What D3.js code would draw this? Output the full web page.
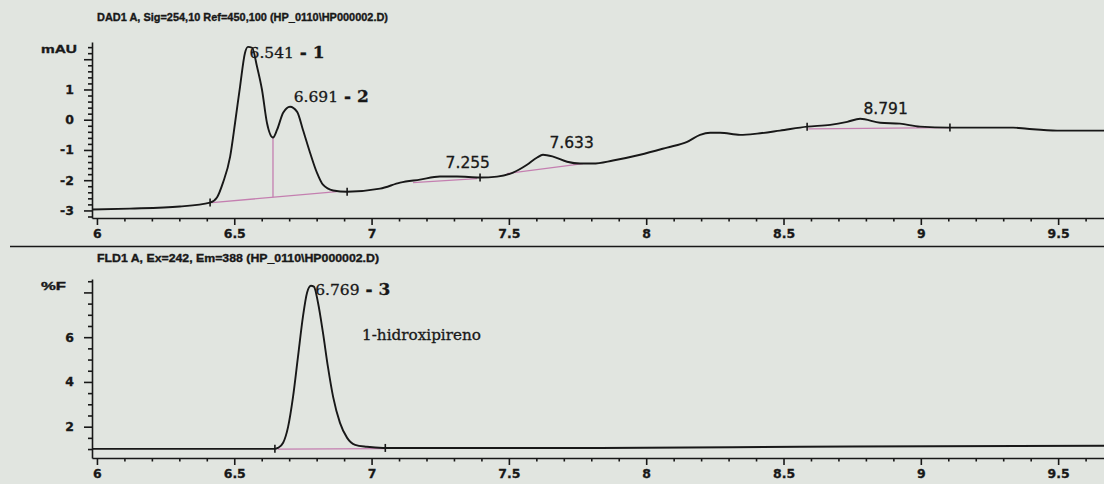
<!DOCTYPE html>
<html>
<head>
<meta charset="utf-8">
<script src="https://cdn.jsdelivr.net/npm/d3@7"></script>
<style>
html, body { margin: 0; padding: 0; background: #e1e5e0; }
svg { display: block; }
</style>
</head>
<body>
<svg id="chart" width="1104" height="484"></svg>
<script>
// DAD1 A trace (time in min, signal in mAU)
const dadTime = [5.982, 6.12, 6.302, 6.412, 6.437, 6.459, 6.485, 6.503, 6.521, 6.539, 6.550, 6.565, 6.583, 6.601, 6.619, 6.641, 6.656, 6.678, 6.703, 6.729, 6.750, 6.776, 6.801, 6.823, 6.860, 6.911, 7.031, 7.104, 7.176, 7.249, 7.311, 7.395, 7.457, 7.515, 7.566, 7.603, 7.624, 7.661, 7.712, 7.759, 7.806, 7.879, 7.978, 8.076, 8.149, 8.196, 8.233, 8.269, 8.342, 8.404, 8.487, 8.586, 8.670, 8.732, 8.779, 8.852, 8.924, 8.997, 9.106, 9.190, 9.336, 9.387, 9.496, 9.667];
const dadSignal = [-2.97, -2.94, -2.87, -2.74, -2.57, -2.08, -1.22, -0.10, 1.09, 2.21, 2.41, 2.38, 1.75, 0.99, -0.10, -0.59, -0.33, 0.23, 0.43, 0.26, -0.33, -1.09, -1.75, -2.15, -2.34, -2.38, -2.28, -2.08, -1.98, -1.88, -1.88, -1.91, -1.88, -1.75, -1.49, -1.25, -1.16, -1.22, -1.39, -1.45, -1.45, -1.35, -1.16, -0.92, -0.73, -0.50, -0.43, -0.43, -0.50, -0.46, -0.36, -0.23, -0.17, -0.07, 0.03, -0.10, -0.13, -0.23, -0.26, -0.26, -0.26, -0.30, -0.36, -0.36];

// FLD1 A trace (time in min, signal in %F)
const fldTime = [5.982, 6.375, 6.648, 6.659, 6.678, 6.696, 6.714, 6.732, 6.750, 6.765, 6.779, 6.790, 6.805, 6.823, 6.841, 6.860, 6.885, 6.911, 6.940, 6.983, 7.042, 7.832, 8.560, 9.667];
const fldSignal = [1.01, 1.01, 1.01, 1.05, 1.28, 1.99, 3.33, 5.12, 6.91, 7.99, 8.30, 8.26, 7.54, 6.20, 4.68, 3.33, 2.17, 1.50, 1.19, 1.10, 1.05, 1.05, 1.10, 1.15];

// integration baselines [start time, start value, end time, end value]
const dadBaselines = [[6.419, -2.74, 6.874, -2.38], [7.151, -2.08, 7.384, -1.95], [7.493, -1.78, 7.770, -1.45], [8.590, -0.30, 9.106, -0.26]];
const fldBaselines = [[6.659, 1.00, 7.050, 1.02]];
// drop line between peaks 1 and 2 [time, top value, bottom value]
const dadDrops = [[6.641, -0.59, -2.56]];
// peak start / end marks [time, value]
const dadMarks = [[6.412, -2.74], [6.911, -2.38], [7.395, -1.91], [8.586, -0.23], [9.106, -0.26]];
const fldMarks = [[6.648, 1.01], [7.050, 1.05]];

// peak labels
const dadPeakTimes = [6.541, 6.691, 7.255, 7.633, 8.791];
const dadPeakApex = [2.41, 0.43, -1.88, -1.16, 0.03];
const dadPeakSuffix = [" - 1", " - 2", "", "", ""];
const fldPeakTimes = [6.769];
const fldPeakApex = [8.30];
const fldPeakSuffix = [" - 3"];

// axis ticks
const timeTicks = [6, 6.5, 7, 7.5, 8, 8.5, 9, 9.5];
const dadTicks = [-3, -2, -1, 0, 1, 2];
const dadTickLabels = ["-3", "-2", "-1", "0", "1", ""];
const fldTicks = [2, 4, 6, 8];
const fldTickLabels = ["2", "4", "6", ""];

const dadTitle = "DAD1 A, Sig=254,10 Ref=450,100 (HP_0110\\HP000002.D)";
const fldTitle = "FLD1 A, Ex=242, Em=388 (HP_0110\\HP000002.D)";
const compoundName = "1-hidroxipireno";

// layout
const ink = "#181818";
const pink = "#c47fb0";
const sans = "'Liberation Sans', Arial, sans-serif";
const wideSans = "'DejaVu Sans', sans-serif";
const serif = "'DejaVu Serif', serif";

const svg = d3.select("#chart");

const x = d3.scaleLinear().domain([5.982, 9.667]).range([92, 1104]);

// Deze functie maakt de printerletters wat zwaarder (dunne omlijning)
const heavy = (sel, w) => sel.style("stroke", ink).style("stroke-width", w).style("paint-order", "stroke");

// Deze functie zet het lettertype van de aslabels
const tickFont = (sel) => sel
    .attr("font-family", "DejaVu Sans").attr("font-weight", "bold").attr("font-size", 12.5)
    .style("font-family", "'DejaVu Sans'").style("font-weight", "bold").style("font-size", "12.5px")
    .style("fill", ink)
    .call(heavy, 0.3);

const panels = [
    {
        title: dadTitle, titleY: 21, titleLen: 291, unit: "mAU", unitY: 53, unitLen: 36,
        y: d3.scaleLinear().domain([-3.25, 2.57]).range([218, 42]),
        ticks: dadTicks, tickLabels: dadTickLabels, minorStep: 0.2,
        time: dadTime, signal: dadSignal, baselines: dadBaselines, drops: dadDrops, marks: dadMarks,
        peakTimes: dadPeakTimes, peakApex: dadPeakApex, peakSuffix: dadPeakSuffix,
        labelDx: [4, 7, 4, 4, 0], labelDy: [11, -5, -9, -7, -5],
        labelFont: [serif, serif, wideSans, wideSans, wideSans]
    },
    {
        title: fldTitle, titleY: 262, titleLen: 282, unit: "%F", unitY: 290, unitLen: 25,
        y: d3.scaleLinear().domain([0.6, 8.6]).range([458, 279]),
        ticks: fldTicks, tickLabels: fldTickLabels, minorStep: 0.5,
        time: fldTime, signal: fldSignal, baselines: fldBaselines, drops: [], marks: fldMarks,
        peakTimes: fldPeakTimes, peakApex: fldPeakApex, peakSuffix: fldPeakSuffix,
        labelDx: [7], labelDy: [9],
        labelFont: [serif]
    }
];

// Deze functie tekent een paneel (titel, assen, signaal, basislijnen en labels)
const drawPanel = (p) => {
    const g = svg.append("g");
    const y = p.y;
    const yBottom = y.range()[0];

    g.append("text")
        .attr("x", 97).attr("y", p.titleY)
        .attr("textLength", p.titleLen).attr("lengthAdjust", "spacingAndGlyphs")
        .style("font", `bold 11px ${sans}`).style("fill", ink)
        .call(heavy, 0.35)
        .text(p.title);

    g.append("text")
        .attr("x", 41).attr("y", p.unitY)
        .attr("textLength", p.unitLen).attr("lengthAdjust", "spacingAndGlyphs")
        .style("font", `bold 11px ${sans}`).style("fill", ink)
        .call(heavy, 0.35)
        .text(p.unit);

    // x axis: minor ticks every 0.1, major every 0.5
    const minorTimes = d3.range(60, 97).map(d => d / 10).filter(d => !timeTicks.includes(d));
    g.append("g")
        .attr("transform", `translate(0,${yBottom})`)
        .call(d3.axisBottom(x).tickValues(minorTimes).tickSize(3.5).tickSizeOuter(0).tickFormat(""))
        .call(a => a.select(".domain").remove());
    const xa = g.append("g")
        .attr("transform", `translate(0,${yBottom})`)
        .call(d3.axisBottom(x).tickValues(timeTicks).tickSize(7).tickSizeOuter(0).tickPadding(4)
            .tickFormat(d => d3.format("")(d)));
    xa.attr("font-size", 12.5).attr("font-family", "DejaVu Sans");
    xa.selectAll("text").call(tickFont);

    // y axis
    const [y0, y1] = y.domain();
    const minors = d3.range(Math.ceil(y0 / p.minorStep), Math.floor(y1 / p.minorStep) + 1)
        .map(d => +(d * p.minorStep).toFixed(2))
        .filter(d => !p.ticks.includes(d));
    g.append("g")
        .attr("transform", "translate(92,0)")
        .call(d3.axisLeft(y).tickValues(minors).tickSize(4).tickSizeOuter(0).tickFormat(""))
        .call(a => a.select(".domain").remove());
    const ya = g.append("g")
        .attr("transform", "translate(92,0)")
        .call(d3.axisLeft(y).tickValues(p.ticks).tickSize(8).tickSizeOuter(0).tickPadding(10)
            .tickFormat((d, i) => p.tickLabels[i]));
    ya.attr("font-size", 12.5).attr("font-family", "DejaVu Sans");
    ya.selectAll("text").call(tickFont);

    g.selectAll(".domain, .tick line").attr("stroke", ink).attr("stroke-width", 1.6);

    // baselines and drop lines
    g.selectAll(".base").data(p.baselines).join("line")
        .attr("x1", d => x(d[0])).attr("y1", d => y(d[1]))
        .attr("x2", d => x(d[2])).attr("y2", d => y(d[3]))
        .attr("stroke", pink).attr("stroke-width", 1.3);
    g.selectAll(".drop").data(p.drops).join("line")
        .attr("x1", d => x(d[0])).attr("y1", d => y(d[1]))
        .attr("x2", d => x(d[0])).attr("y2", d => y(d[2]))
        .attr("stroke", pink).attr("stroke-width", 1.3);

    // signal
    const line = d3.line().x(d => x(d[0])).y(d => y(d[1])).curve(d3.curveMonotoneX);
    g.append("path")
        .datum(p.time.map((t, i) => [t, p.signal[i]]))
        .attr("d", line)
        .attr("fill", "none").attr("stroke", ink).attr("stroke-width", 1.9)
        .attr("stroke-linejoin", "round");

    // peak start / end marks
    g.selectAll(".mark").data(p.marks).join("line")
        .attr("x1", d => x(d[0])).attr("x2", d => x(d[0]))
        .attr("y1", d => y(d[1]) - 4).attr("y2", d => y(d[1]) + 4)
        .attr("stroke", ink).attr("stroke-width", 1.6);

    // retention time labels
    p.peakTimes.forEach((t, i) => {
        const txt = g.append("text")
            .attr("x", x(t) + p.labelDx[i])
            .attr("y", y(p.peakApex[i]) + p.labelDy[i])
            .style("font", `15.5px ${p.labelFont[i]}`).style("fill", ink)
            .call(heavy, 0.3);
        txt.append("tspan").text(d3.format(".3f")(t));
        if (p.peakSuffix[i]) {
            txt.append("tspan").style("font-weight", "bold").style("font-size", "17px").text(p.peakSuffix[i]);
        }
    });
    return g;
};

panels.forEach(drawPanel);

// compound name in the FLD panel
svg.append("text")
    .attr("x", 362).attr("y", 340)
    .attr("textLength", 119).attr("lengthAdjust", "spacingAndGlyphs")
    .style("font", `15px ${serif}`).style("fill", ink)
    .call(heavy, 0.3)
    .text(compoundName);

// separator between the two panels
svg.append("line")
    .attr("x1", 10).attr("x2", 1104).attr("y1", 246.5).attr("y2", 246.5)
    .attr("stroke", ink).attr("stroke-width", 1.5);
</script>
</body>
</html>
